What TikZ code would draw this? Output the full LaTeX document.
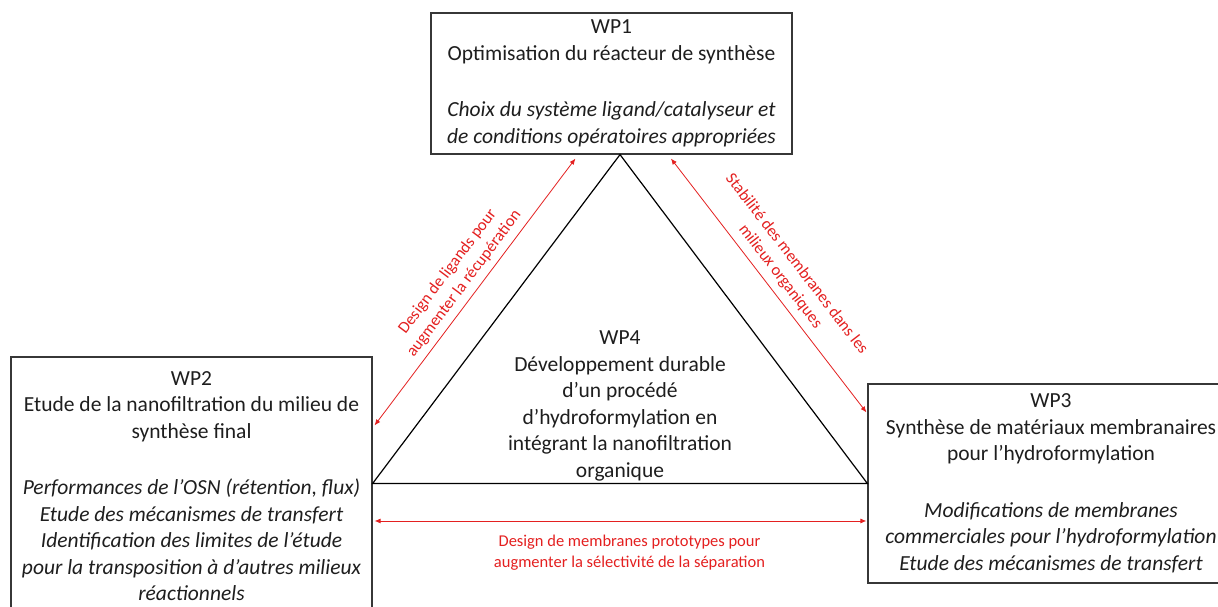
\documentclass[tikz,border=0pt]{standalone}
\usepackage{fontspec}
\setmainfont{Carlito}
\usepackage{tikz}
\usetikzlibrary{calc, arrows.meta, positioning}
\definecolor{linkred}{RGB}{228, 32, 32}
\definecolor{boxline}{RGB}{55, 55, 55}
\definecolor{txt}{RGB}{30, 30, 30}
\tikzset{
    wpnode/.style = {draw=boxline, line width=1.2pt, rectangle, inner sep=0em, text=txt,
      align=center, font=\fontsize{21.5}{26.5}\selectfont},
    textnode/.style = {draw=none, fill=none, rectangle, inner sep=0em, text=txt,
      align=center, font=\fontsize{21.5}{26.5}\selectfont},
    linktext/.style = {text=linkred, align=center, font=\fontsize{16.5}{20.5}\selectfont, inner sep=0.3em},
    link/.style = {linkred, line width=0.8pt, {Latex[length=6pt,width=5pt]}-{Latex[length=6pt,width=5pt]}},
    tri/.style = {draw=black, line width=1.2pt}
}

\begin{document}
\begin{tikzpicture}[x=1pt, y=1pt]
\useasboundingbox (0,0) rectangle (1218,607);
\clip (0,0) rectangle (1218,607);
\fill[white] (0,0) rectangle (1218,607);

\node[wpnode, name=wp1, minimum width=361pt, minimum height=141pt] at (611.5,523.5)
	{WP1\\ Optimisation du réacteur de synthèse\\[30pt]
	\itshape Choix du système ligand/catalyseur et\\ \itshape de conditions opératoires appropriées};

\node[wpnode, name=wp2, minimum width=361pt, minimum height=258pt] at (191.5,121)
	{WP2\\ Etude de la nanofiltration du milieu de\\ synthèse final\\[30pt]
	\itshape Performances de l’OSN (rétention, flux)\\ \itshape Etude des mécanismes de transfert\\
	\itshape Identification des limites de l’étude\\ \itshape pour la transposition à d’autres milieux\\
	\itshape réactionnels};

\node[wpnode, name=wp3, minimum width=366pt, minimum height=199pt] at (1051,123.5)
	{WP3\\ Synthèse de matériaux membranaires\\ pour l’hydroformylation\\[30pt]
	\itshape Modifications de membranes\\ \itshape commerciales pour l’hydroformylation\\
	\itshape Etude des mécanismes de transfert};

\node[textnode, name=wp4] at (620,201)
	{WP4\\ Développement durable\\ d’un procédé\\ d’hydroformylation en\\ intégrant la nanofiltration\\ organique};

\draw[tri] ([xshift=8.5pt]wp1.south) -- (wp2.east |- wp3.west) -- (wp3.west) -- cycle;

\draw[link] ([xshift=2pt, yshift=-69pt]wp2.north east) -- node[linktext, above=3pt, sloped]
	{Design de ligands pour\\ augmenter la récupération} ([xshift=145pt, yshift=-4pt]wp1.south west);
\draw[link] ([xshift=59.5pt, yshift=-4pt]wp1.south) -- node[linktext, above=4pt, sloped]
	{Stabilité des membranes dans les\\ milieux organiques} ([xshift=-1pt, yshift=-29pt]wp3.north west);
\draw[link] ([xshift=2pt, yshift=-35pt]wp2.east) -- node[linktext, below=11pt, xshift=9pt]
	{Design de membranes prototypes pour\\ augmenter la sélectivité de la séparation} ([xshift=-1pt, yshift=-37.5pt]wp3.west);
\end{tikzpicture}
\end{document}
